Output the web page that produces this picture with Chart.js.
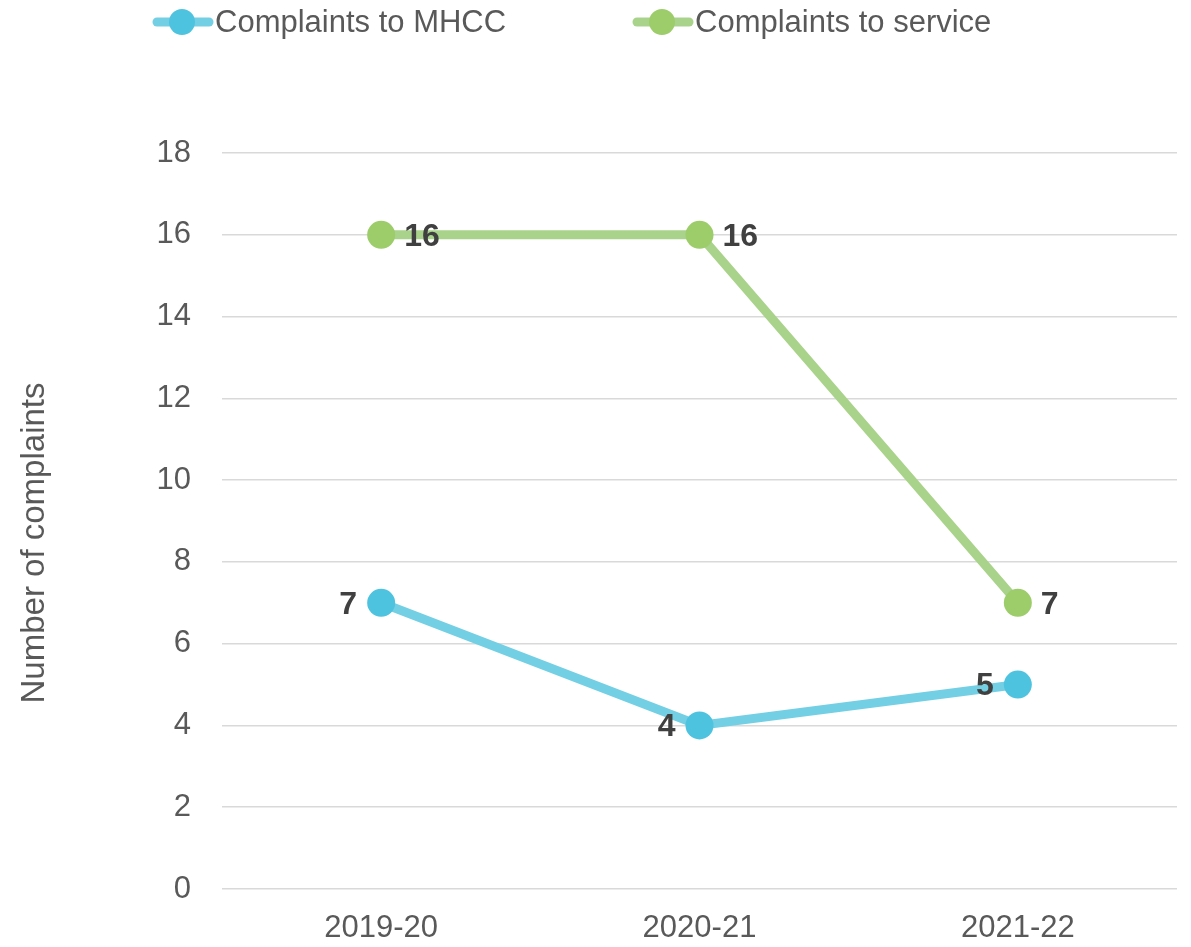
<!DOCTYPE html>
<html>
<head>
<meta charset="utf-8">
<script src="https://cdn.jsdelivr.net/npm/chart.js@4.4.1/dist/chart.umd.min.js"></script>
<style>
  html, body { margin: 0; padding: 0; background: #fff; }
  #wrap { width: 1191px; height: 947px; }
</style>
</head>
<body>
<div id="wrap"><canvas id="chart"></canvas></div>
<script>
// ---------- data ----------
const categories = ['2019-20', '2020-21', '2021-22'];
const seriesNames = ['Complaints to MHCC', 'Complaints to service'];
const mhccValues = [7, 4, 5];
const serviceValues = [16, 16, 7];
const yMin = 0;
const yMax = 18;
const yStep = 2;
const yTitle = 'Number of complaints';

// ---------- styles ----------
const FONT = '"Liberation Sans", Arial, sans-serif';
const TEXT_GREY = '#595959';
const LABEL_DARK = '#404040';
const BLUE_LINE = '#73cfe4';
const BLUE_POINT = '#4dc3df';
const GREEN_LINE = '#a9d38b';
const GREEN_POINT = '#9ccd6a';

// legend drawn by hand (line + circle icon like the original)
const legendPlugin = {
    id: 'customLegend',
    afterDraw(chart) {
        const ctx = chart.ctx;
        const items = [
            { x: 153, ds: chart.data.datasets[0] },
            { x: 633, ds: chart.data.datasets[1] }
        ];
        const y = 22;
        ctx.save();
        items.forEach(it => {
            ctx.strokeStyle = it.ds.borderColor;
            ctx.lineWidth = 9;
            ctx.lineCap = 'round';
            ctx.beginPath();
            ctx.moveTo(it.x + 4, y);
            ctx.lineTo(it.x + 56, y);
            ctx.stroke();
            ctx.fillStyle = it.ds.pointBackgroundColor;
            ctx.beginPath();
            ctx.arc(it.x + 29, y, 13, 0, Math.PI * 2);
            ctx.fill();
            ctx.fillStyle = TEXT_GREY;
            ctx.font = '31px ' + FONT;
            ctx.textBaseline = 'middle';
            ctx.textAlign = 'left';
            ctx.fillText(it.ds.label, it.x + 62, y + 1);
        });

        // y axis title, sits a bit below the middle in the original
        ctx.translate(35, 543);
        ctx.rotate(-Math.PI / 2);
        ctx.font = '33px ' + FONT;
        ctx.textAlign = 'center';
        ctx.textBaseline = 'middle';
        ctx.fillStyle = TEXT_GREY;
        ctx.fillText(yTitle, 0, 0);
        ctx.restore();
    }
};

// value labels next to each point
const valueLabels = {
    id: 'valueLabels',
    afterDatasetsDraw(chart) {
        const ctx = chart.ctx;
        ctx.save();
        ctx.font = 'bold 32px ' + FONT;
        ctx.fillStyle = LABEL_DARK;
        ctx.textBaseline = 'middle';
        chart.data.datasets.forEach((ds, i) => {
            const meta = chart.getDatasetMeta(i);
            meta.data.forEach((pt, j) => {
                if (ds.labelSide === 'right') {
                    ctx.textAlign = 'left';
                    ctx.fillText(String(ds.data[j]), pt.x + 23, pt.y + 2);
                } else {
                    ctx.textAlign = 'right';
                    ctx.fillText(String(ds.data[j]), pt.x - 24, pt.y + 2);
                }
            });
        });
        ctx.restore();
    }
};

const ctx = document.getElementById('chart');
new Chart(ctx, {
    type: 'line',
    data: {
        labels: categories,
        datasets: [
            {
                label: seriesNames[0],
                data: mhccValues,
                borderColor: BLUE_LINE,
                backgroundColor: BLUE_POINT,
                pointBackgroundColor: BLUE_POINT,
                pointBorderWidth: 0,
                pointRadius: 14,
                borderWidth: 9,
                tension: 0,
                labelSide: 'left'
            },
            {
                label: seriesNames[1],
                data: serviceValues,
                borderColor: GREEN_LINE,
                backgroundColor: GREEN_POINT,
                pointBackgroundColor: GREEN_POINT,
                pointBorderWidth: 0,
                pointRadius: 14,
                borderWidth: 9,
                tension: 0,
                labelSide: 'right'
            }
        ]
    },
    options: {
        responsive: true,
        maintainAspectRatio: false,
        animation: false,
        layout: { padding: { top: 153, right: 13, left: 0, bottom: 0 } },
        plugins: {
            legend: { display: false },
            tooltip: { enabled: false }
        },
        scales: {
            x: {
                offset: true,
                grid: { display: false, drawTicks: false },
                border: { display: false },
                ticks: { color: TEXT_GREY, font: { family: FONT, size: 31 }, padding: 21 },
                afterFit(scale) { scale.height = 58; }
            },
            y: {
                min: yMin,
                max: yMax,
                ticks: { stepSize: yStep, color: TEXT_GREY, font: { family: FONT, size: 31 }, padding: 31 },
                grid: { color: '#d9d9d9', lineWidth: 1.5, drawTicks: false },
                border: { display: false },
                afterFit(scale) { scale.width = 222; }
            }
        }
    },
    plugins: [valueLabels, legendPlugin]
});
</script>
</body>
</html>
